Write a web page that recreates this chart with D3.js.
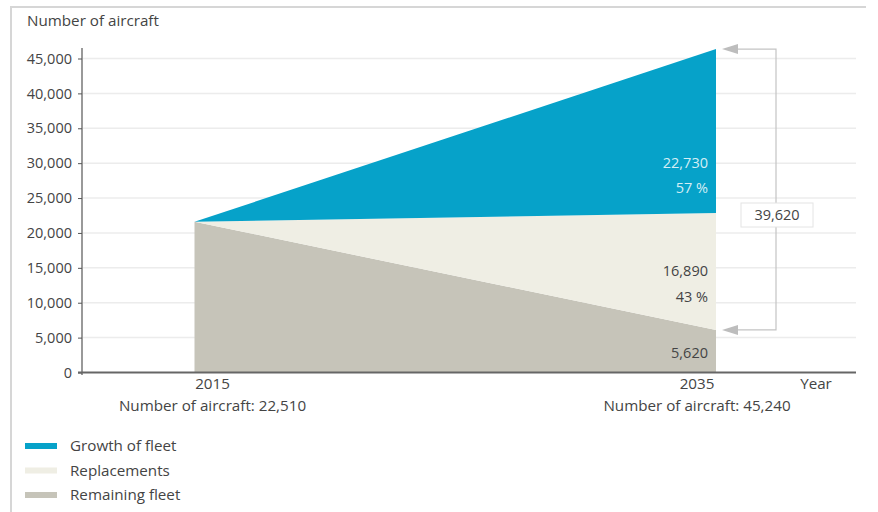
<!DOCTYPE html>
<html><head><meta charset="utf-8">
<script src="https://cdn.jsdelivr.net/npm/d3@7"></script>
<style>
body{margin:0;background:#fff;}
text{font-family:"Open Sans",sans-serif;}
</style></head>
<body><svg id="c" width="878" height="512"></svg>
<script>
// ---- data ----
const years = [2015, 2035];
const remainingFleet = [21600, 6100];
const replacements = [0, 16750];
const growthOfFleet = [0, 23500];
const yTicks = [0, 5000, 10000, 15000, 20000, 25000, 30000, 35000, 40000, 45000];
const seriesNames = ["Remaining fleet", "Replacements", "Growth of fleet"];
const seriesColors = ["#c6c4b9", "#efeee4", "#06a2c9"];
const legendOrder = ["Growth of fleet", "Replacements", "Remaining fleet"];
const totalsLabels = ["Number of aircraft: 22,510", "Number of aircraft: 45,240"];
const valueLabels = [
  {series:"Growth of fleet", lines:["22,730","57 %"]},
  {series:"Replacements", lines:["16,890","43 %"]},
  {series:"Remaining fleet", lines:["5,620"]}
];
const bracketLabel = "39,620";

// ---- chart ----
const FS = 14.5, FS2 = 15.2;
const svg = d3.select("#c");
const x = d3.scaleLinear().domain([2015, 2035]).range([194.5, 716]);
const y = d3.scaleLinear().domain([0, 45000]).range([372.5, 58.5]);

// frame
svg.append("line").attr("x1",10).attr("x2",866).attr("y1",7).attr("y2",7).attr("stroke","#d6d6d6").attr("stroke-width",2);
svg.append("line").attr("x1",11).attr("x2",11).attr("y1",6).attr("y2",512).attr("stroke","#d6d6d6").attr("stroke-width",2);

// gridlines
svg.append("g").selectAll("line").data(yTicks.filter(d=>d>0)).join("line")
  .attr("x1",83).attr("x2",856).attr("y1",d=>y(d)).attr("y2",d=>y(d))
  .attr("stroke","#ececec").attr("stroke-width",1.5);

// stacked areas
const table = years.map((yr,i)=>({year:yr, "Remaining fleet":remainingFleet[i], "Replacements":replacements[i], "Growth of fleet":growthOfFleet[i]}));
const stack = d3.stack().keys(seriesNames)(table);
const area = d3.area().x(d=>x(d.data.year)).y0(d=>y(d[0])).y1(d=>y(d[1]));
svg.append("g").selectAll("path").data(stack).join("path")
  .attr("d", area).attr("fill",(d,i)=>seriesColors[i]);

// y axis
const yAxis = d3.axisLeft(y).tickValues(yTicks).tickFormat(d3.format(",")).tickSize(4).tickPadding(6);
const gy = svg.append("g").attr("transform","translate(82,0)").call(yAxis);
gy.select(".domain").attr("d","M0,48V375").attr("stroke","#555").attr("stroke-width",1.2);
gy.selectAll(".tick line").attr("stroke","#555");
gy.selectAll(".tick text").attr("font-size",FS).attr("fill","#444").attr("font-family","'Open Sans',sans-serif");

// x axis line
svg.append("line").attr("x1",78).attr("x2",856).attr("y1",y(0)).attr("y2",y(0)).attr("stroke","#666").attr("stroke-width",2);

// x labels
const labelOffset = [18, -19];
svg.append("g").selectAll("text").data(years).join("text")
  .attr("x",(d,i)=>x(d)+labelOffset[i]).attr("y",389).attr("text-anchor","middle")
  .attr("font-size",FS2).attr("fill","#444").text(d=>d);
svg.append("g").selectAll("text").data(totalsLabels).join("text")
  .attr("x",(d,i)=>x(years[i])+labelOffset[i]).attr("y",411).attr("text-anchor","middle")
  .attr("font-size",FS2).attr("fill","#444").text(d=>d);
svg.append("text").attr("x",816).attr("y",389).attr("text-anchor","middle").attr("font-size",FS2).attr("fill","#444").text("Year");

// title
svg.append("text").attr("x",27).attr("y",26).attr("font-size",FS2).attr("fill","#444").text("Number of aircraft");

// value labels
const valueY = {"Growth of fleet":[168,193], "Replacements":[276,302], "Remaining fleet":[358]};
const valueColor = {"Growth of fleet":"#d4eef5", "Replacements":"#444", "Remaining fleet":"#444"};
valueLabels.forEach(v=>{
  v.lines.forEach((t,j)=>{
    svg.append("text").attr("x",x(2035)-8).attr("y",valueY[v.series][j]).attr("text-anchor","end")
      .attr("font-size",FS).attr("fill",valueColor[v.series]).text(t);
  });
});

// bracket
const last = stack.map(s=>s[1]);
const topY = y(last[2][1]);
const lowY = y(last[0][1]);
const bx = 776;
svg.append("path").attr("d",`M${x(2035)+22},${topY}H${bx}V${lowY}H${x(2035)+22}`)
  .attr("fill","none").attr("stroke","#c4c4c4").attr("stroke-width",1.2);
[topY, lowY].forEach(yy=>{
  svg.append("path").attr("d",`M${x(2035)+6},${yy}L${x(2035)+22},${yy-5}L${x(2035)+22},${yy+5}Z`).attr("fill","#bdbdbd");
});
svg.append("rect").attr("x",741).attr("y",203).attr("width",72).attr("height",24)
  .attr("fill","#fff").attr("stroke","#e4e4e4");
svg.append("text").attr("x",777).attr("y",220).attr("text-anchor","middle").attr("font-size",FS).attr("fill","#444").text(bracketLabel);

// legend
const lg = svg.append("g").selectAll("g").data(legendOrder).join("g")
  .attr("transform",(d,i)=>`translate(25,${446+i*24.5})`);
lg.append("rect").attr("x",0).attr("y",-3).attr("width",32).attr("height",6)
  .attr("fill",d=>seriesColors[seriesNames.indexOf(d)]);
lg.append("text").attr("x",45).attr("y",5).attr("font-size",FS2).attr("fill","#444").text(d=>d);
</script></body></html>
